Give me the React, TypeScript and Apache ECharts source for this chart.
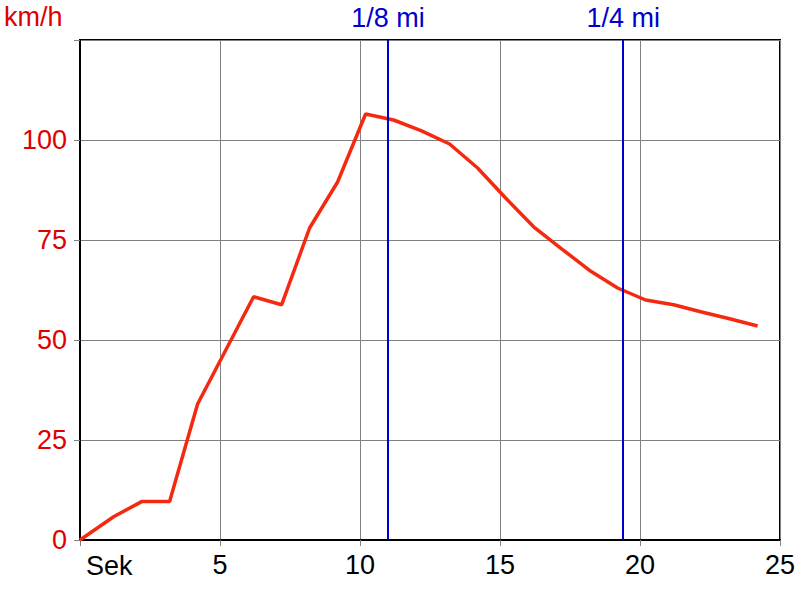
import React, { useEffect, useRef } from "react";
import * as echarts from "echarts";

const timeSec = [0, 1.2, 2.2, 3.2, 4.2, 6.2, 7.2, 8.2, 9.2, 10.2, 11.2, 12.2, 13.2, 14.2, 15.2, 16.2, 17.2, 18.2, 19.2, 20.2, 21.2, 22.2, 23.2, 24.2];
const speedKmh = [0, 5.8, 9.6, 9.6, 34, 60.8, 58.8, 78, 89.5, 106.5, 105, 102.3, 99, 93, 85.5, 78.3, 72.8, 67.4, 63, 60, 58.8, 57, 55.3, 53.5];
const markers = [
  { label: "1/8 mi", x: 11.0 },
  { label: "1/4 mi", x: 19.4 },
];
const FONT = "'Liberation Sans', Arial, sans-serif";
const FS = 27;

export default function App() {
  const ref = useRef<HTMLDivElement>(null);
  useEffect(() => {
    const chart = echarts.init(ref.current!, null, { renderer: "svg" });
    chart.setOption({
      animation: false,
      backgroundColor: "#fff",
      grid: {
        left: 80,
        top: 40,
        right: 20,
        bottom: 60,
        show: true,
        borderColor: "#000",
        borderWidth: 2,
        backgroundColor: "#fff",
      },
      xAxis: {
        type: "value",
        min: 0,
        max: 25,
        interval: 5,
        axisLine: { show: true, onZero: false, lineStyle: { color: "#000", width: 2 } },
        axisTick: { show: true, length: 6, lineStyle: { color: "#808080" } },
        splitLine: { show: true, lineStyle: { color: "#808080", width: 1 } },
        axisLabel: {
          color: "#000",
          fontSize: FS,
          fontFamily: FONT,
          margin: 11,
          formatter: (v: number) => (v === 0 ? "" : String(v)),
        },
      },
      yAxis: {
        type: "value",
        min: 0,
        max: 125,
        interval: 25,
        axisLine: { show: true, lineStyle: { color: "#000", width: 2 } },
        axisTick: { show: true, length: 6, lineStyle: { color: "#808080" } },
        splitLine: { show: true, lineStyle: { color: "#808080", width: 1 } },
        axisLabel: {
          color: "#e00000",
          fontSize: FS,
          fontFamily: FONT,
          margin: 13,
          formatter: (v: number) => (v === 125 ? "" : String(v)),
        },
      },
      graphic: [
        {
          type: "text",
          left: 4,
          top: 3,
          style: { text: "km/h", fill: "#e00000", fontSize: FS, fontFamily: FONT },
        },
        {
          type: "text",
          left: 86,
          top: 552,
          style: { text: "Sek", fill: "#000", fontSize: FS, fontFamily: FONT },
        },
      ],
      series: [
        {
          type: "line",
          data: timeSec.map((t, i) => [t, speedKmh[i]]),
          showSymbol: false,
          lineStyle: { color: "#f42a10", width: 3.5 },
          z: 3,
          markLine: {
            silent: true,
            symbol: ["none", "none"],
            lineStyle: { color: "#0000cc", width: 2, type: "solid" },
            label: {
              show: true,
              position: "end",
              distance: 9,
              color: "#0000cc",
              fontSize: FS,
              fontFamily: FONT,
              formatter: (p: any) => p.name,
            },
            data: markers.map((m) => ({ name: m.label, xAxis: m.x })),
          },
        },
      ],
    });
    return () => chart.dispose();
  }, []);
  return <div ref={ref} style={{ width: 800, height: 600, position: "absolute", left: 0, top: 0 }} />;
}
